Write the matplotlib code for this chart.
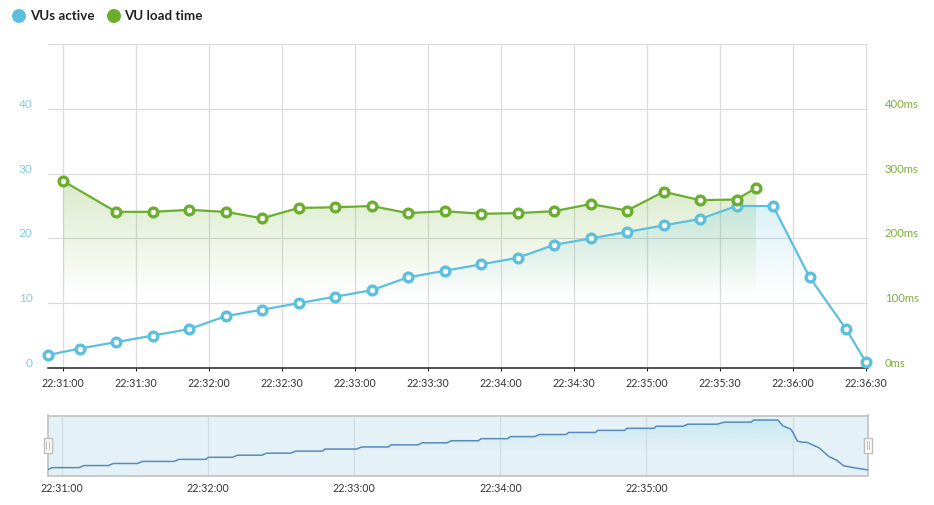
#!/usr/bin/env python3
"""VUs active / VU load time chart with overview strip below."""
import numpy as np
import matplotlib
matplotlib.use("Agg")
matplotlib.rcParams["font.family"] = ["Lato", "DejaVu Sans"]
import matplotlib.pyplot as plt
from matplotlib.colors import to_rgb
from matplotlib.patches import Circle, Polygon, Rectangle
from matplotlib.transforms import ScaledTranslation

W, H = 934, 505
BLUE = '#5BC0DE'
GREEN = '#6BAE2E'

# seconds after 22:31:00
vu_t = [-6, 7, 22, 37, 52, 67, 82, 97, 112, 127, 142, 157, 172, 187, 202, 217, 232, 247, 262, 277, 292, 307, 322, 330]
vu_active = [2, 3, 4, 5, 6, 8, 9, 10, 11, 12, 14, 15, 16, 17, 19, 20, 21, 22, 23, 25, 25, 14, 6, 1]

load_t = [0, 22, 37, 52, 67, 82, 97, 112, 127, 142, 157, 172, 187, 202, 217, 232, 247, 262, 277, 285]
load_ms = [289, 241, 241, 244, 241, 231, 247, 248, 250, 239, 242, 238, 239, 242, 253, 243, 272, 259, 260, 278]

# overview strip, smoothed series
mini_t = [-6, -4, 7, 9, 19, 21, 31, 33, 46, 48, 59, 60, 70, 72, 82, 84, 94, 96, 107, 108, 121, 123, 134, 135,
          146, 148, 158, 160, 171, 172, 183, 184, 194, 196, 207, 208, 219, 220, 231, 232, 243, 244, 255, 257,
          269, 272, 283, 284, 294, 296, 299, 300, 302, 304, 306, 311, 315, 318, 321, 326, 331]
mini_vu = [2, 3, 3, 4, 4, 5, 5, 6, 6, 7, 7, 8, 8, 9, 9, 10, 10, 11, 11, 12, 12, 13, 13, 14,
           14, 15, 15, 16, 16, 17, 17, 18, 18, 19, 19, 20, 20, 21, 21, 22, 22, 23, 23, 24,
           24, 25, 25, 26, 26, 23.2, 21.8, 20.4, 15.8, 15.3, 15.2, 12.5, 8.3, 6.7, 3.9, 2.8, 1.9]

main_ticks = [0, 30, 60, 90, 120, 150, 180, 210, 240, 270, 300, 330]
main_labels = ['22:31:00', '22:31:30', '22:32:00', '22:32:30', '22:33:00', '22:33:30',
               '22:34:00', '22:34:30', '22:35:00', '22:35:30', '22:36:00', '22:36:30']
mini_ticks = [0, 60, 120, 180, 240, 300]
mini_labels = ['22:31:00', '22:32:00', '22:33:00', '22:34:00', '22:35:00', '']
left_ticks = [0, 10, 20, 30, 40]
right_ticks = [0, 100, 200, 300, 400]
right_labels = ['0ms', '100ms', '200ms', '300ms', '400ms']


def px_axes(x0, y0, x1, y1):
    return fig.add_axes([x0 / W, 1 - y1 / H, (x1 - x0) / W, (y1 - y0) / H])


def gradient_fill(ax, x, y, color, alpha, y_top, y_bottom):
    # vertical fade in data coords, clipped to the area under the line
    rgba = np.zeros((128, 2, 4))
    rgba[..., :3] = to_rgb(color)
    rgba[..., 3] = np.linspace(alpha, 0, 128)[:, None]
    im = ax.imshow(rgba, extent=(x[0], x[-1], y_bottom, y_top), aspect='auto',
                   interpolation='bilinear', zorder=1.5)
    pts = list(zip(x, y)) + [(x[-1], y_bottom), (x[0], y_bottom)]
    im.set_clip_path(Polygon(pts, transform=ax.transData))


fig = plt.figure(figsize=(W / 100, H / 100), dpi=100)
# y tick labels sit just above their gridline
label_shift = ScaledTranslation(0, 4.5 / 100, fig.dpi_scale_trans)

ax = px_axes(48, 44, 868, 368)
# right axis is 10x the left one
gradient_fill(ax, load_t, [v / 10 for v in load_ms], GREEN, 0.25, 28.9, 11)
gradient_fill(ax, vu_t, vu_active, BLUE, 0.22, 25, 11)
ax.plot(vu_t, vu_active, color=BLUE, lw=1.6, marker='o', ms=6.3, mew=2.4, mfc='white',
        clip_on=False, zorder=3)
ax.set_xlim(-6, 331)
ax.set_ylim(0, 50)
ax.set_xticks(main_ticks, main_labels)
ax.set_yticks(list(range(0, 51, 10)), [str(v) for v in left_ticks] + [''])
ax.set_axisbelow(True)
ax.grid(True, color='#DCDCDC', lw=0.9)
for s in ('top', 'left', 'right'):
    ax.spines[s].set_visible(False)
ax.spines['bottom'].set_color('#222222')
ax.spines['bottom'].set_linewidth(1.1)
ax.tick_params(axis='x', length=2.5, width=0.8, color='#222222', labelsize=7.7, labelcolor='#333333', pad=4.5)
ax.tick_params(axis='y', length=0, labelsize=8.6, labelcolor='#86CAE5', pad=11)
for lab in ax.get_yticklabels():
    lab.set_va('center')
    lab.set_transform(lab.get_transform() + label_shift)

ax2 = ax.twinx()
ax2.plot(load_t, load_ms, color=GREEN, lw=1.6, marker='o', ms=6.3, mew=2.4, mfc='white',
         clip_on=False, zorder=4)
ax2.set_ylim(0, 500)
ax2.set_yticks(right_ticks, right_labels)
ax2.tick_params(axis='y', length=0, labelsize=8.2, labelcolor='#80AD3A', pad=12)
for lab in ax2.get_yticklabels():
    lab.set_va('center')
    lab.set_transform(lab.get_transform() + label_shift)
for s in ax2.spines.values():
    s.set_visible(False)

# overview strip
mini = px_axes(47.5, 415.5, 868, 475.5)
mini.set_facecolor('#E4F1F6')
gradient_fill(mini, mini_t, mini_vu, '#B5E5EF', 0.6, 26, 11)
mini.plot(mini_t, mini_vu, color='#4A7FB5', lw=1.1, alpha=0.9, zorder=3)
mini.set_xlim(-6, 331)
mini.set_ylim(-0.8, 28.2)
mini.set_xticks(mini_ticks, mini_labels)
mini.set_yticks([])
mini.set_axisbelow(True)
mini.grid(True, axis='x', color='#D0DFE6', lw=1.0)
mini.tick_params(axis='x', length=0, labelsize=7.7, labelcolor='#333333', pad=5.5)
for s in mini.spines.values():
    s.set_color('#BDBDBD')
    s.set_linewidth(1.1)

# legend and drag handles, in pixel coords
over = fig.add_axes([0, 0, 1, 1])
over.set_xlim(0, W)
over.set_ylim(H, 0)
over.axis('off')
over.add_patch(Circle((19, 16), 7, color=BLUE, lw=0))
over.text(30, 16, 'VUs active', fontsize=9.6, fontweight='bold', color='#222222', va='center')
over.add_patch(Circle((114, 16), 7, color=GREEN, lw=0))
over.text(124, 16, 'VU load time', fontsize=9.6, fontweight='bold', color='#222222', va='center')
for hx in (47.5, 868):
    over.add_patch(Rectangle((hx - 4, 437.5), 8, 15, fc='white', ec='#BDBDBD', lw=1.0, zorder=5))
    over.plot([hx - 1.2, hx - 1.2], [441, 449], color='#BDBDBD', lw=0.7, zorder=6)
    over.plot([hx + 1.2, hx + 1.2], [441, 449], color='#BDBDBD', lw=0.7, zorder=6)

fig.savefig('out.png', dpi=100)
